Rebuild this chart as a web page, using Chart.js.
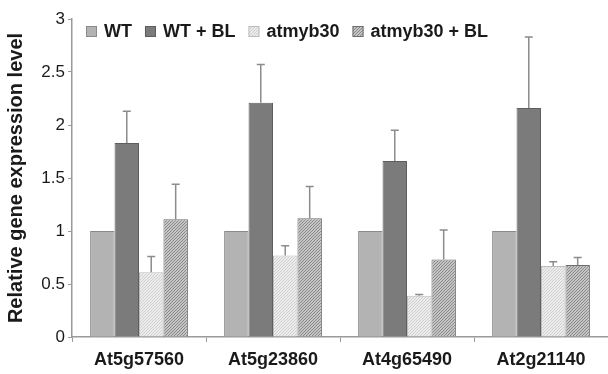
<!DOCTYPE html>
<html>
<head>
<meta charset="utf-8">
<script src="https://cdn.jsdelivr.net/npm/chart.js@4"></script>
<style>
  html, body { margin: 0; padding: 0; background: #fff; }
  #wrap { width: 608px; height: 374px; }
</style>
</head>
<body>
<div id="wrap"><canvas id="grafico" width="608" height="374"></canvas></div>
<script>
"use strict";

/* ── DADOS ─────────────────────────────── */
const genes      = ["At5g57560", "At5g23860", "At4g65490", "At2g21140"];
const series     = ["WT", "WT + BL", "atmyb30", "atmyb30 + BL"];
const wt         = [1.00, 1.00, 1.00, 1.00];
const wtBL       = [1.83, 2.21, 1.66, 2.16];
const myb        = [0.61, 0.77, 0.39, 0.67];
const mybBL      = [1.11, 1.12, 0.73, 0.68];
const wtErr      = [0, 0, 0, 0];
const wtBLErr    = [0.30, 0.36, 0.29, 0.67];
const mybErr     = [0.15, 0.09, 0.01, 0.04];
const mybBLErr   = [0.33, 0.30, 0.28, 0.07];
const yTicks     = [0, 0.5, 1, 1.5, 2, 2.5, 3];

/* ── PADRÕES ───────────────────────────── */
function padrao(fundo, linha, passo) {
  const c = document.createElement("canvas");
  c.width = passo; c.height = passo;
  const g = c.getContext("2d");
  g.fillStyle = fundo;
  g.fillRect(0, 0, passo, passo);
  g.strokeStyle = linha;
  g.lineWidth = 1;
  g.beginPath();
  g.moveTo(0, passo); g.lineTo(passo, 0);
  g.moveTo(-1, 1); g.lineTo(1, -1);
  g.moveTo(passo - 1, passo + 1); g.lineTo(passo + 1, passo - 1);
  g.stroke();
  return g.createPattern(c, "repeat");
}
const ctx = document.getElementById("grafico").getContext("2d");
const padMyb   = padrao("#ececec", "#cfcfcf", 3);
const padMybBL = padrao("#c4c4c4", "#8a8a8a", 3);

const fundos = ["#b3b3b3", "#7b7b7b", padMyb, padMybBL];
const bordas = ["#8a8a8a", "#5e5e5e", "#bdbdbd", "#6e6e6e"];
const valores = [wt, wtBL, myb, mybBL];
const erros   = [wtErr, wtBLErr, mybErr, mybBLErr];
const FONTE = "'Liberation Sans', Arial, sans-serif";

/* ── BARRAS DE ERRO ────────────────────── */
const errorBars = {
  id: "errorBars",
  afterDatasetsDraw(chart) {
    const y = chart.scales.y;
    const c = chart.ctx;
    c.save();
    c.strokeStyle = "#8c8c8c";
    c.lineWidth = 1.5;
    chart.data.datasets.forEach((ds, i) => {
      const meta = chart.getDatasetMeta(i);
      meta.data.forEach((bar, j) => {
        const e = erros[i][j];
        if (!e) return;
        const top = y.getPixelForValue(ds.data[j] + e);
        c.beginPath();
        c.moveTo(bar.x, bar.y);
        c.lineTo(bar.x, top);
        c.moveTo(bar.x - 4, top);
        c.lineTo(bar.x + 4, top);
        c.stroke();
      });
    });
    c.restore();
  }
};

/* ── LEGENDA ───────────────────────────── */
const legenda = {
  id: "legenda",
  afterDraw(chart) {
    const c = chart.ctx;
    c.save();
    c.font = "bold 18px " + FONTE;
    c.textBaseline = "middle";
    let x = 86;
    const yc = 31;
    chart.data.datasets.forEach(ds => {
      c.fillStyle = ds.backgroundColor;
      c.fillRect(x, yc - 5, 11, 11);
      c.strokeStyle = ds.borderColor;
      c.lineWidth = 1;
      c.strokeRect(x + 0.5, yc - 4.5, 10, 10);
      c.fillStyle = "#1a1a1a";
      c.fillText(ds.label, x + 18, yc + 1);
      x += 18 + c.measureText(ds.label).width + 13;
    });
    c.restore();
  }
};

/* ── GRÁFICO ───────────────────────────── */
new Chart(ctx, {
  type: "bar",
  data: {
    labels: genes,
    datasets: series.map((nome, i) => ({
      label: nome,
      data: valores[i],
      backgroundColor: fundos[i],
      borderColor: bordas[i],
      borderWidth: 1,
      barPercentage: 1,
      categoryPercentage: 0.73
    }))
  },
  options: {
    responsive: false,
    animation: false,
    layout: { padding: { top: 19, right: 0, left: 4, bottom: 0 } },
    plugins: { legend: { display: false }, tooltip: { enabled: false } },
    scales: {
      x: {
        grid: { display: true, drawOnChartArea: false, offset: true, color: "#9a9a9a", tickLength: 5 },
        border: { color: "#9a9a9a", width: 1.5 },
        ticks: {
          color: "#1a1a1a",
          font: { family: FONTE, size: 18, weight: "bold" },
          padding: 7
        },
        afterFit(s) { s.height = 37; }
      },
      y: {
        min: 0, max: 3,
        afterBuildTicks(s) { s.ticks = yTicks.map(v => ({ value: v })); },
        grid: { display: true, drawOnChartArea: false, color: "#9a9a9a", tickLength: 4 },
        border: { color: "#9a9a9a", width: 1.5 },
        ticks: {
          color: "#1a1a1a",
          font: { family: FONTE, size: 17 },
          padding: 3,
          callback: v => String(v)
        },
        title: {
          display: true,
          text: "Relative gene expression level",
          color: "#1a1a1a",
          font: { family: FONTE, size: 20, weight: "bold" },
          padding: { top: 0, bottom: 4 }
        },
        afterFit(s) { s.width = 68; }
      }
    }
  },
  plugins: [errorBars, legenda]
});
</script>
</body>
</html>
